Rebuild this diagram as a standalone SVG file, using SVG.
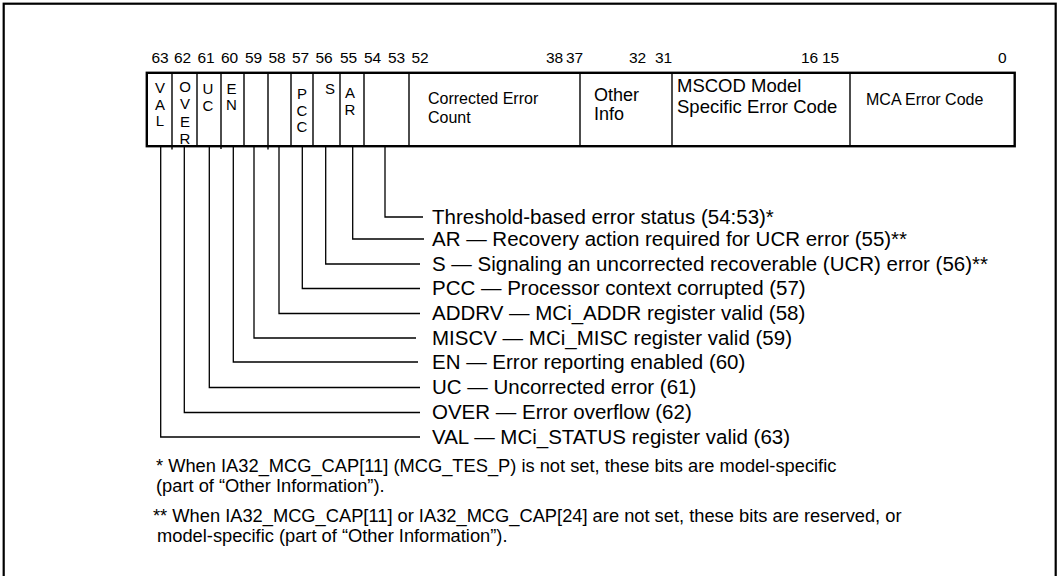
<svg xmlns="http://www.w3.org/2000/svg" width="1060" height="576" viewBox="0 0 1060 576">
<style>
text{font-family:"Liberation Sans",Arial,sans-serif;fill:#000}
.bit{font-size:15.5px}
.v{font-size:15px;text-anchor:middle}
.cell{font-size:16px}
.lbl{font-size:20.5px}
.fn{font-size:18.3px}
.ln{stroke:#000;stroke-width:1.3;fill:none}
.div{stroke:#000;stroke-width:1.4}
</style>
<rect x="3.7" y="3.7" width="1052" height="600" fill="#fff" stroke="#000" stroke-width="2.2"/>
<g id="bitnums" class="bit">
<text x="151.5" y="63">63</text><text x="174" y="63">62</text><text x="197.5" y="63">61</text><text x="221" y="63">60</text>
<text x="245" y="63">59</text><text x="268.5" y="63">58</text><text x="292" y="63">57</text><text x="315.5" y="63">56</text>
<text x="340" y="63">55</text><text x="364" y="63">54</text><text x="388" y="63">53</text><text x="411.5" y="63">52</text>
<text x="546" y="63">38</text><text x="566" y="63">37</text><text x="629" y="63">32</text><text x="655" y="63">31</text>
<text x="801" y="63">16</text><text x="822" y="63">15</text><text x="998" y="63">0</text>
</g>
<g id="register">
<rect x="146.8" y="72.8" width="867.9" height="73.4" fill="#fff" stroke="#000" stroke-width="2.4"/>
<g class="div">
<line x1="172" y1="73" x2="172" y2="149.5"/><line x1="197" y1="73" x2="197" y2="146"/><line x1="221" y1="73" x2="221" y2="149"/>
<line x1="244" y1="73" x2="244" y2="146"/><line x1="268" y1="73" x2="268" y2="149.5"/><line x1="291" y1="73" x2="291" y2="146"/>
<line x1="313" y1="73" x2="313" y2="146"/><line x1="340" y1="73" x2="340" y2="146"/><line x1="364" y1="73" x2="364" y2="146"/>
<line x1="409" y1="73" x2="409" y2="146"/><line x1="580" y1="73" x2="580" y2="146"/><line x1="672" y1="73" x2="672" y2="146"/>
<line x1="850" y1="73" x2="850" y2="146"/>
</g>
</g>
<g id="f-val" class="v"><text x="160" y="93">V</text><text x="160" y="109.5">A</text><text x="160" y="126">L</text></g>
<g id="f-over" class="v"><text x="185" y="91.5">O</text><text x="185" y="109">V</text><text x="185" y="126.5">E</text><text x="185" y="144">R</text></g>
<g id="f-uc" class="v"><text x="208" y="93.5">U</text><text x="208" y="111">C</text></g>
<g id="f-en" class="v"><text x="231.5" y="93.5">E</text><text x="231.5" y="109.5">N</text></g>
<g id="f-pcc" class="v"><text x="302" y="99">P</text><text x="302" y="115.5">C</text><text x="302" y="132">C</text></g>
<g id="f-s" class="v"><text x="330" y="94">S</text></g>
<g id="f-ar" class="v"><text x="350" y="97.5">A</text><text x="350" y="115">R</text></g>
<g id="f-cec" class="cell"><text x="428" y="104">Corrected Error</text><text x="428" y="122.5">Count</text></g>
<g id="f-other" class="cell" style="font-size:18px"><text x="594" y="101">Other</text><text x="594" y="119.5">Info</text></g>
<g id="f-mscod" class="cell" style="font-size:18.5px"><text x="677" y="92">MSCOD Model</text><text x="677" y="113">Specific Error Code</text></g>
<g id="f-mca" class="cell"><text x="866" y="105">MCA Error Code</text></g>
<g id="connectors" class="ln">
<polyline points="385,146 385,217 423,217"/>
<polyline points="352.7,146 352.7,239 424,239"/>
<polyline points="325.7,146 325.7,264 420,264"/>
<polyline points="302.3,146 302.3,288.5 420,288.5"/>
<polyline points="279,146 279,313.5 420,313.5"/>
<polyline points="254,146 254,338 416,338"/>
<polyline points="233.3,146 233.3,362 418,362"/>
<polyline points="209.3,146 209.3,387.5 420,387.5"/>
<polyline points="184.3,146 184.3,412.5 420,412.5"/>
<polyline points="160.7,146 160.7,437 420,437"/>
</g>
<g id="labels" class="lbl">
<text x="432" y="223.5">Threshold-based error status (54:53)*</text>
<text x="432" y="245.5">AR — Recovery action required for UCR error (55)**</text>
<text x="432" y="270.5">S — Signaling an uncorrected recoverable (UCR) error (56)**</text>
<text x="432" y="295">PCC — Processor context corrupted (57)</text>
<text x="432" y="320">ADDRV — MCi_ADDR register valid (58)</text>
<text x="432" y="344.5">MISCV — MCi_MISC register valid (59)</text>
<text x="432" y="368.5">EN — Error reporting enabled (60)</text>
<text x="432" y="394">UC — Uncorrected error (61)</text>
<text x="432" y="419">OVER — Error overflow (62)</text>
<text x="432" y="443.5">VAL — MCi_STATUS register valid (63)</text>
</g>
<g id="notes" class="fn">
<text x="156" y="472">* When IA32_MCG_CAP[11] (MCG_TES_P) is not set, these bits are model-specific</text>
<text x="156" y="492"> (part of “Other Information”).</text>
<text x="153" y="522">** When IA32_MCG_CAP[11] or IA32_MCG_CAP[24] are not set, these bits are reserved, or</text>
<text x="157" y="542">model-specific (part of “Other Information”).</text>
</g>
</svg>
